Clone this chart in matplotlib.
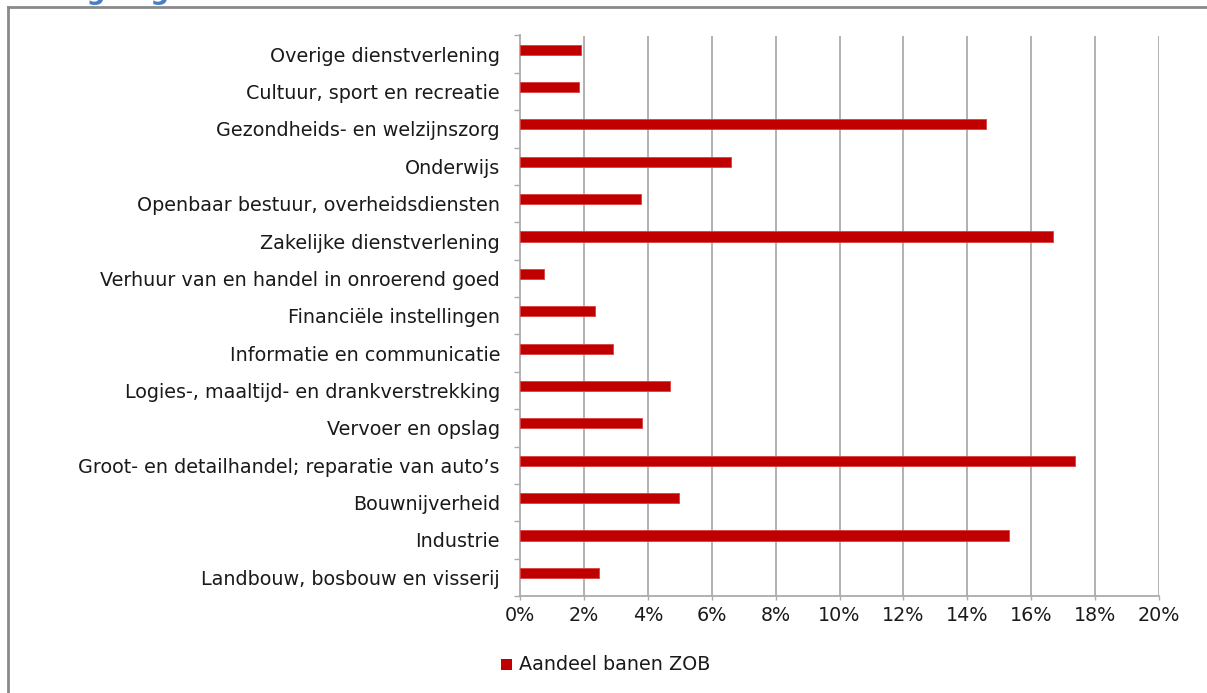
import matplotlib
matplotlib.use("Agg")
import matplotlib.pyplot as plt
from matplotlib.lines import Line2D
from matplotlib.patches import Rectangle
from matplotlib.ticker import FuncFormatter

categories = [
    "Landbouw, bosbouw en visserij",
    "Industrie",
    "Bouwnijverheid",
    "Groot- en detailhandel; reparatie van auto\u2019s",
    "Vervoer en opslag",
    "Logies-, maaltijd- en drankverstrekking",
    "Informatie en communicatie",
    "Financi\u00eble instellingen",
    "Verhuur van en handel in onroerend goed",
    "Zakelijke dienstverlening",
    "Openbaar bestuur, overheidsdiensten",
    "Onderwijs",
    "Gezondheids- en welzijnszorg",
    "Cultuur, sport en recreatie",
    "Overige dienstverlening",
]
values = [2.46, 15.30, 4.99, 17.36, 3.82, 4.69, 2.90, 2.35, 0.74, 16.69, 3.79, 6.59, 14.58, 1.86, 1.91]
series_name = "Aandeel banen ZOB"
xticks = [0, 2, 4, 6, 8, 10, 12, 14, 16, 18, 20]

W, H = 1207, 693
fig = plt.figure(figsize=(W / 100, H / 100), dpi=100)
plt.rcParams['font.family'] = ['DejaVu Sans']
FS = 13.8
TXT = "#1a1a1a"

ax = fig.add_axes([520 / W, 1 - 596 / H, (1159 - 520) / W, (596 - 35.5) / H])

red = "#C00000"
grid = "#ABABAB"
n = len(categories)
ypos = [i + 0.12 for i in range(n)]
ax.barh(ypos, values, height=0.27, color=red, edgecolor="#D84040", linewidth=0.6, zorder=3)

ax.set_xlim(0, 20)
ax.set_ylim(-0.5, n - 0.5)
ax.set_xticks(xticks)
ax.xaxis.set_major_formatter(FuncFormatter(lambda v, p: f"{v:.0f}%"))
ax.tick_params(axis="x", length=3, width=1, color=grid, labelsize=FS, pad=4, labelcolor=TXT)
for x in xticks[1:]:
    ax.axvline(x, color=grid, lw=1.3, zorder=1)

ax.set_yticks([i - 0.5 for i in range(n + 1)])
ax.set_yticklabels([])
ax.set_yticks(list(range(n)), minor=True)
ax.set_yticklabels(categories, minor=True)
ax.tick_params(axis="y", which="major", length=4, width=1, color=grid)
ax.tick_params(axis="y", which="minor", length=0, labelsize=FS, pad=14.4, labelcolor=TXT)

for s in ["top", "right"]:
    ax.spines[s].set_visible(False)
for s in ["left", "bottom"]:
    ax.spines[s].set_color(grid)
    ax.spines[s].set_linewidth(1.3)

# legend
fig.add_artist(Rectangle((500.5 / W, 1 - 670 / H), 11 / W, 11 / H, transform=fig.transFigure,
                         color=red, lw=0))
fig.text(519 / W, 1 - 665 / H, series_name, fontsize=FS, va="center", ha="left", color=TXT)

# outer frame (cropped)
fig.add_artist(Line2D([8 / W, 8 / W], [0, 1 - 7 / H], transform=fig.transFigure, color="#8a8a8a", lw=2))
fig.add_artist(Line2D([8 / W, 1], [1 - 7 / H, 1 - 7 / H], transform=fig.transFigure, color="#8a8a8a", lw=2))

# cropped title
fig.text(10 / W, 1 + 1 / H, "Werkgelegenheid", fontsize=19, fontweight="bold", color="#4A7EC4",
         ha="left", va="baseline")

fig.savefig("out.png", dpi=100)
